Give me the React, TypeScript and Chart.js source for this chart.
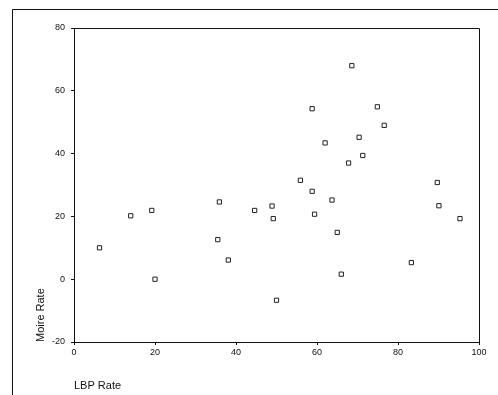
import React, { useEffect, useRef } from "react";
import { Chart, registerables } from "chart.js";

Chart.register(...registerables);

const lbpRate = [6.3, 14.0, 19.2, 20.0, 35.9, 35.5, 38.1, 44.6, 48.9, 49.2, 50.0, 59.4, 63.7, 65.0, 66.0, 83.3, 90.1, 95.3, 68.6, 58.8, 74.9, 76.6, 70.4, 62.0, 71.3, 67.8, 55.9, 58.8, 89.7];
const moireRate = [10.0, 20.2, 21.9, 0, 24.6, 12.6, 6.1, 21.9, 23.3, 19.3, -6.7, 20.7, 25.2, 14.9, 1.6, 5.3, 23.4, 19.3, 68.0, 54.3, 54.9, 49.0, 45.2, 43.4, 39.4, 37.0, 31.5, 28.0, 30.8];
const xTitle = "LBP Rate";
const yTitle = "Moire Rate";

const FONT = '"Liberation Sans", Arial, sans-serif';

export default function App() {
  const ref = useRef<HTMLCanvasElement | null>(null);

  useEffect(() => {
    const canvas = ref.current;
    if (!canvas) return;
    const framePlugin = {
      id: "framePlugin",
      afterDraw(chart: any) {
        const { ctx, chartArea } = chart;
        ctx.save();
        ctx.strokeStyle = "#111";
        ctx.lineWidth = 1;
        // plot frame top and right
        ctx.beginPath();
        ctx.moveTo(chartArea.left, Math.round(chartArea.top) + 0.5);
        ctx.lineTo(Math.round(chartArea.right) + 0.5, Math.round(chartArea.top) + 0.5);
        ctx.lineTo(Math.round(chartArea.right) + 0.5, chartArea.bottom);
        ctx.stroke();
        // outer frame
        ctx.beginPath();
        ctx.moveTo(12.5, 395);
        ctx.lineTo(12.5, 9.5);
        ctx.lineTo(498, 9.5);
        ctx.stroke();
        // titles
        ctx.fillStyle = "#111";
        ctx.font = "11px " + FONT;
        ctx.textAlign = "left";
        ctx.textBaseline = "alphabetic";
        ctx.fillText(xTitle, chartArea.left, 389);
        ctx.translate(43.5, chartArea.bottom);
        ctx.rotate(-Math.PI / 2);
        ctx.fillText(yTitle, 0, 0);
        ctx.restore();
      },
    };
    const chart = new Chart(canvas, {
      type: "scatter",
      data: {
        datasets: [
          {
            data: lbpRate.map((x, i) => ({ x, y: moireRate[i] })),
            pointStyle: "rect",
            pointRadius: 3,
            borderWidth: 1,
            borderColor: "#222",
            backgroundColor: "#fff",
          },
        ],
      },
      options: {
        responsive: false,
        animation: false,
        devicePixelRatio: 1,
        layout: { padding: { left: 0, top: 28, right: 19, bottom: 0 } },
        plugins: { legend: { display: false }, tooltip: { enabled: false } },
        scales: {
          x: {
            type: "linear",
            min: 0,
            max: 100,
            afterFit(scale: any) {
              scale.height = 53;
            },
            ticks: { stepSize: 20, color: "#111", font: { size: 9, family: FONT }, padding: 2, maxRotation: 0 },
            grid: { drawOnChartArea: false, drawTicks: true, tickLength: 3, color: "#111" },
            border: { display: true, color: "#111", width: 1 },
          },
          y: {
            type: "linear",
            min: -20,
            max: 80,
            afterFit(scale: any) {
              scale.width = 74;
            },
            ticks: { stepSize: 20, color: "#111", font: { size: 9, family: FONT }, padding: 6 },
            grid: { drawOnChartArea: false, drawTicks: true, tickLength: 3, color: "#111" },
            border: { display: true, color: "#111", width: 1 },
          },
        },
      },
      plugins: [framePlugin],
    });
    return () => chart.destroy();
  }, []);

  return (
    <div style={{ position: "fixed", left: 0, top: 0, width: 498, height: 395, background: "#fff" }}>
      <canvas ref={ref} width={498} height={395} style={{ display: "block" }} />
    </div>
  );
}
